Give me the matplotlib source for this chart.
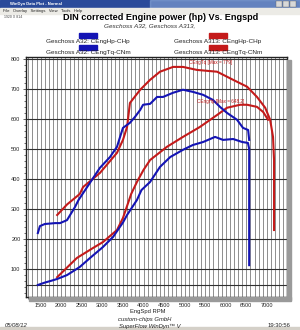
import matplotlib
matplotlib.use("Agg")
import matplotlib.pyplot as plt
import numpy as np
from matplotlib.patches import Rectangle

plt.rcParams['font.family'] = ['Liberation Sans', 'DejaVu Sans']

# --- data ---
rpm_a32_hp = [1430, 1600, 1730, 1900, 2140, 2450, 2700, 3010, 3260, 3500, 3600, 3840, 3950,
              4160, 4400, 4650, 4960, 5200, 5450, 5740, 5935, 6180, 6400, 6540, 6570, 6570]
hp_a32 = [47, 55, 60, 67, 80, 107, 137, 173, 207, 255, 280, 330, 363,
          390, 440, 473, 497, 513, 523, 540, 530, 533, 523, 520, 500, 113]

rpm_a32_tq = [1430, 1480, 1600, 1850, 1970, 2140, 2215, 2335, 2420, 2580, 2940, 3185, 3355,
              3430, 3500, 3670, 3795, 3920, 3990, 4160, 4330, 4475, 4720, 4960, 5200, 5450,
              5690, 5860, 6030, 6275, 6420, 6545, 6570]
tq_a32 = [220, 243, 250, 253, 253, 263, 280, 307, 330, 363, 437, 473, 507,
          540, 570, 587, 607, 630, 647, 650, 673, 673, 687, 697, 690, 680,
          663, 640, 620, 597, 570, 563, 530]

rpm_a313_tq = [1900, 2140, 2450, 2530, 2940, 3355, 3500, 3600, 3670, 3920, 4160, 4400, 4720,
               4960, 5300, 5790, 6180, 6520, 6760, 6960, 7080, 7150, 7175, 7175, 7175]
tq_a313 = [280, 315, 350, 373, 420, 487, 530, 573, 653, 697, 730, 757, 773,
           773, 763, 757, 730, 707, 673, 637, 597, 540, 463, 330, 230]

rpm_a313_hp = [1900, 2380, 2770, 3015, 3355, 3500, 3600, 3700, 3840, 4000, 4160, 4570, 4960,
               5370, 5790, 6030, 6350, 6520, 6760, 6910, 7030]
hp_a313 = [73, 137, 170, 190, 230, 270, 310, 350, 390, 430, 463, 507, 540,
           573, 613, 637, 647, 647, 640, 623, 597]

x_ticks = [1500, 2000, 2500, 3000, 3500, 4000, 4500, 5000, 5500, 6000, 6500, 7000]
y_ticks = [100, 200, 300, 400, 500, 600, 700, 800]
h_grid = [47] + y_ticks

BLUE = '#1414b4'
RED = '#c41a1a'

W, H = 300, 330
fig = plt.figure(figsize=(3, 3.3), dpi=100)
fig.patch.set_facecolor('white')


def fx(px):
    return px / W


def fy(py):
    return 1 - py / H


# window chrome
fig.patches.append(Rectangle((0, fy(8)), 1, 8 / H, transform=fig.transFigure,
                             color='#2a4a9a', zorder=0))
fig.patches.append(Rectangle((fx(150), fy(8)), 0.5, 8 / H, transform=fig.transFigure,
                             color='#8aa8d8', zorder=0, alpha=0.6))
fig.text(fx(10), fy(4), 'WinDyn Data Plot - Normal', color='white', fontsize=3,
         fontweight='bold', va='center')
for bx in (276, 283, 290):
    fig.patches.append(Rectangle((fx(bx), fy(7)), 6 / W, 6 / H, transform=fig.transFigure,
                                 facecolor='#d8d8d8', edgecolor='#666', lw=0.3, zorder=1))
fig.patches.append(Rectangle((0, fy(14)), 1, 6 / H, transform=fig.transFigure,
                             color='#ecebe6', zorder=0))
fig.text(fx(3), fy(11), 'File   Overlay   Settings   View   Tools   Help', fontsize=3,
         va='center', color='#222')
fig.text(fx(4), fy(17.5), '1920 X 814', fontsize=2.5, va='center', color='#444')
fig.patches.append(Rectangle((0, 0), 1, 3 / H, transform=fig.transFigure,
                             color='#d4d0c8', zorder=0))

# titles
fig.text(fx(161), fy(17), 'DIN corrected Engine power (hp) Vs. Engspd', fontsize=6.6,
         fontweight='bold', ha='center', va='center')
fig.text(fx(150), fy(26), 'Geschoss A32, Geschoss A313,', fontsize=4.6, style='italic',
         ha='center', va='center', color='#333')

# legend
legend = [('Geschoss A32: CEngHp-CHp', BLUE, 88, 35, 41),
          ('Geschoss A313: CEngHp-CHp', RED, 218, 35, 41),
          ('Geschoss A32: CEngTq-CNm', BLUE, 88, 47, 52.5),
          ('Geschoss A313: CEngTq-CNm', RED, 218, 47, 52.5)]
for label, col, cx, by, ty in legend:
    fig.patches.append(Rectangle((fx(cx - 9), fy(by + 2.5)), 18 / W, 5 / H,
                                 transform=fig.transFigure, color=col))
    fig.text(fx(cx), fy(ty), label, fontsize=4.6, ha='center', va='center', color='#222')

# plot area
ax = fig.add_axes([fx(26), fy(297), (287 - 26) / W, (297 - 57) / H])
ax.set_xlim(1142, 7490)
ax.set_ylim(7, 806)

# shadow
fig.patches.append(Rectangle((fx(287), fy(300)), 4 / W, (300 - 60) / H,
                             transform=fig.transFigure, color='#9a9a9a', zorder=0))
fig.patches.append(Rectangle((fx(29), fy(301)), (291 - 29) / W, 4 / H,
                             transform=fig.transFigure, color='#9a9a9a', zorder=0))

for r in range(1200, 7500, 100):
    ax.axvline(r, color='#505050', lw=0.45, zorder=1)
for v in h_grid:
    ax.axhline(v, color='#303030', lw=0.8, zorder=1)

ax.plot(rpm_a313_hp, hp_a313, color=RED, lw=1.5, zorder=3)
ax.plot(rpm_a313_tq, tq_a313, color=RED, lw=1.5, zorder=3)
ax.plot(rpm_a32_hp, hp_a32, color=BLUE, lw=1.5, zorder=4)
ax.plot(rpm_a32_tq, tq_a32, color=BLUE, lw=1.5, zorder=4)

ax.text(5620, 787, 'CEngTq [Max = 779]', color=RED, fontsize=3.3, ha='center', va='center',
        zorder=5)
ax.text(5870, 658, 'CEngHp [Max = 648.2]', color=RED, fontsize=3.3, ha='center', va='center',
        zorder=5)

ax.set_xticks(x_ticks)
ax.set_xticklabels([str(t) for t in x_ticks], fontsize=4)
ax.set_yticks(y_ticks)
ax.set_yticklabels([str(t) for t in y_ticks], fontsize=4)
ax.set_xticks(range(1200, 7500, 100), minor=True)
ax.set_yticks(range(20, 806, 20), minor=True)
ax.tick_params(axis='both', which='major', length=2, width=0.5, pad=2, colors='#222')
ax.tick_params(axis='both', which='minor', length=1.5, width=0.4)
for s in ax.spines.values():
    s.set_linewidth(1.0)
    s.set_color('#222')

fig.text(fx(148), fy(311), 'EngSpd RPM', fontsize=4.2, ha='center', va='center', color='#222')
fig.text(fx(145), fy(319.5), 'custom-chips GmbH', fontsize=4.2, style='italic', ha='center',
         va='center', color='#222')
fig.text(fx(150), fy(326), 'SuperFlow WinDyn\u2122 V', fontsize=4.2, style='italic',
         ha='center', va='center', color='#222')
fig.text(fx(5), fy(325.5), '05/08/12', fontsize=4.2, style='italic', va='center', color='#222')
fig.text(fx(290), fy(325.5), '19:30:56', fontsize=4.2, ha='right', va='center', color='#222')

fig.savefig('out.png', dpi=100)
